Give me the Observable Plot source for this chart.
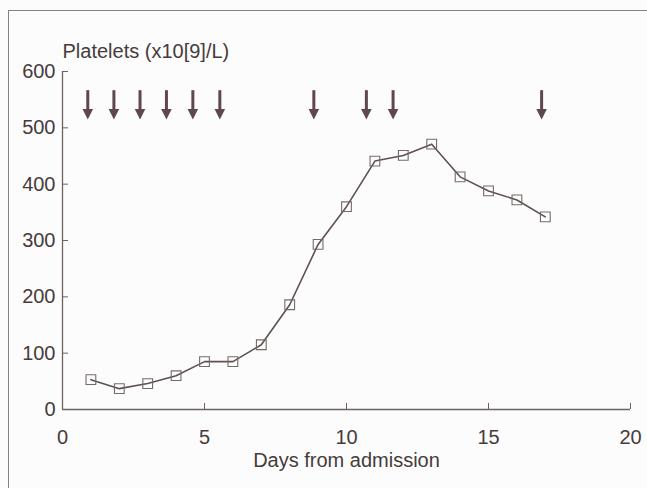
<!DOCTYPE html>
<html>
<head>
<meta charset="utf-8">
<script src="https://cdn.jsdelivr.net/npm/d3@7"></script>
<script src="https://cdn.jsdelivr.net/npm/@observablehq/plot@0.6"></script>
<style>
  html, body { margin: 0; padding: 0; background: #fdfcfc; overflow: hidden; }
  #wrap { position: relative; width: 647px; height: 488px; }
  #border { position: absolute; left: 8px; top: 10px; width: 700px; height: 600px;
            border-left: 1.5px solid #8a7e7e; border-top: 1.5px solid #8a7e7e; pointer-events: none; }
  svg { position: absolute; left: 0; top: 0; }
</style>
</head>
<body>
<div id="wrap"><div id="border"></div></div>
<script>
const days = [1, 2, 3, 4, 5, 6, 7, 8, 9, 10, 11, 12, 13, 14, 15, 16, 17];
const platelets = [53, 37, 46, 60, 85, 85, 115, 186, 293, 360, 441, 451, 471, 413, 388, 372, 342];
const arrowDays = [0.89, 1.81, 2.73, 3.66, 4.59, 5.54, 8.85, 10.70, 11.64, 16.87];
const arrowTop = 566;
const arrowShaftEnd = 530;
const arrowHead = 525;
const xTicks = [0, 5, 10, 15, 20];
const yTicks = [0, 100, 200, 300, 400, 500, 600];
const yLabel = "Platelets (x10[9]/L)";
const xLabel = "Days from admission";

const data = days.map((d, i) => ({day: d, value: platelets[i]}));
const arrows = arrowDays.map(d => ({day: d}));

const headSymbol = {
  draw(ctx, size) {
    const r = Math.sqrt(size / Math.PI);
    ctx.moveTo(-r, -0.9 * r);
    ctx.lineTo(r, -0.9 * r);
    ctx.lineTo(0, 1.1 * r);
    ctx.closePath();
  }
};

const ink = "#463b3b";
const chart = Plot.plot({
  width: 647,
  height: 488,
  marginLeft: 62,
  marginRight: 17,
  marginTop: 71,
  marginBottom: 79,
  style: {fontFamily: "'Liberation Sans', Arial, sans-serif", fontSize: "20px", color: ink, background: "transparent"},
  x: {domain: [0, 20]},
  y: {domain: [0, 600]},
  marks: [
    Plot.ruleY([0], {stroke: "#6e6262", strokeWidth: 1.3}),
    Plot.ruleX([0], {stroke: "#6e6262", strokeWidth: 1.3}),
    Plot.axisX(xTicks, {tickSize: -6, tickPadding: 26, stroke: "#6e6262", fill: ink, fontSize: 20, label: null}),
    Plot.axisY(yTicks, {tickSize: -6, tickPadding: 13, stroke: "#6e6262", fill: ink, fontSize: 20, label: null}),
    Plot.text([yLabel], {frameAnchor: "top-left", textAnchor: "start", lineAnchor: "middle", dy: -20, fill: ink, fontSize: 20}),
    Plot.text([xLabel], {frameAnchor: "bottom", textAnchor: "middle", lineAnchor: "middle", dy: 51, fill: ink, fontSize: 20}),
    Plot.line(data, {x: "day", y: "value", stroke: "#5f5151", strokeWidth: 1.6}),
    Plot.dot(data, {x: "day", y: "value", symbol: "square", r: 5.5, stroke: "#756a6a", strokeWidth: 1.1, fill: "none"}),
    Plot.ruleX(arrows, {x: "day", y1: arrowTop, y2: arrowShaftEnd, stroke: "#5e4751", strokeWidth: 3}),
    Plot.dot(arrows, {x: "day", y: () => arrowHead, symbol: headSymbol, r: 5.3, fill: "#5e4751", stroke: "none"})
  ]
});
document.getElementById("wrap").appendChild(chart);
</script>
</body>
</html>
